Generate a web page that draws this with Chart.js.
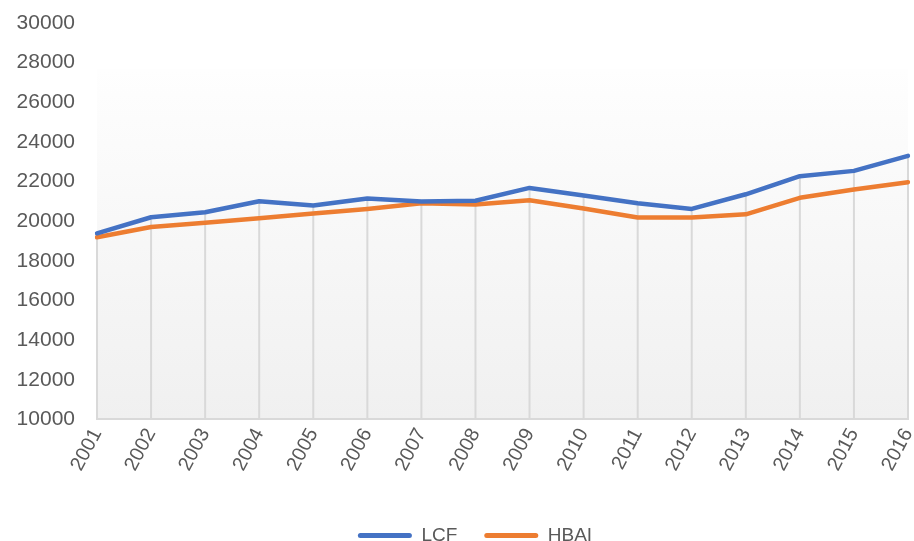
<!DOCTYPE html>
<html>
<head>
<meta charset="utf-8">
<script src="https://cdn.jsdelivr.net/npm/chart.js@4"></script>
<style>
  html, body { margin: 0; padding: 0; background: #fff; }
  #wrap { width: 914px; height: 541px; }
</style>
</head>
<body>
<div id="wrap"><canvas id="chart"></canvas></div>
<script>
const years = ['2001', '2002', '2003', '2004', '2005', '2006', '2007', '2008',
               '2009', '2010', '2011', '2012', '2013', '2014', '2015', '2016'];
const lcf  = [19390, 20200, 20450, 21010, 20790, 21150, 20990, 21030,
              21680, 21300, 20910, 20620, 21360, 22270, 22540, 23300];
const hbai = [19190, 19710, 19920, 20150, 20390, 20620, 20910, 20840,
              21060, 20640, 20190, 20190, 20350, 21180, 21600, 21970];

const yMin = 10000, yMax = 30000, yStep = 2000;

// soft grey fade behind the plot, like the office chart
const plotFill = {
    id: 'plotFill',
    beforeDraw(chart) {
        const a = chart.chartArea;
        const ctx = chart.ctx;
        const top = a.top + 46;
        const g = ctx.createLinearGradient(0, top, 0, a.bottom);
        g.addColorStop(0, '#fefefe');
        g.addColorStop(1, '#f0f0f0');
        ctx.save();
        ctx.fillStyle = g;
        ctx.fillRect(a.left, top, a.right - a.left, a.bottom - top);
        ctx.restore();
    }
};

// drop lines from the highest series down to the axis
const dropLines = {
    id: 'dropLines',
    beforeDatasetsDraw(chart) {
        const xs = chart.scales.x, ys = chart.scales.y;
        const ctx = chart.ctx;
        ctx.save();
        ctx.strokeStyle = '#d9d9d9';
        ctx.lineWidth = 2;
        years.forEach((_, i) => {
            const x = xs.getPixelForValue(i);
            ctx.beginPath();
            ctx.moveTo(x, ys.getPixelForValue(Math.max(lcf[i], hbai[i])));
            ctx.lineTo(x, chart.chartArea.bottom);
            ctx.stroke();
        });
        ctx.restore();
    }
};

// legend sits a bit right of the canvas centre in the original
const legendShift = {
    id: 'legendShift',
    afterLayout(chart) {
        chart.legend.left += 42;
    }
};

Chart.defaults.font.family = '"Liberation Sans", Arial, sans-serif';
Chart.defaults.color = '#595959';

const ctx = document.getElementById('chart').getContext('2d');
new Chart(ctx, {
    type: 'line',
    data: {
        labels: years,
        datasets: [
            { label: 'LCF', data: lcf, borderColor: '#4472C4', backgroundColor: '#4472C4',
              borderWidth: 4.5, pointRadius: 0, tension: 0, borderJoinStyle: 'round', borderCapStyle: 'round' },
            { label: 'HBAI', data: hbai, borderColor: '#ED7D31', backgroundColor: '#ED7D31',
              borderWidth: 4.5, pointRadius: 0, tension: 0, borderJoinStyle: 'round', borderCapStyle: 'round' }
        ]
    },
    options: {
        responsive: true,
        maintainAspectRatio: false,
        animation: false,
        layout: { padding: { top: 23, right: 6, left: 0, bottom: -14 } },
        plugins: {
            tooltip: { enabled: false },
            legend: {
                position: 'bottom',
                labels: {
                    font: { size: 19 },
                    color: '#595959',
                    boxWidth: 54,
                    boxHeight: 5,
                    useBorderRadius: true,
                    borderRadius: 2.5,
                    padding: 27,
                    generateLabels(chart) {
                        return chart.data.datasets.map((d, i) => ({
                            text: d.label,
                            fillStyle: d.borderColor,
                            strokeStyle: d.borderColor,
                            lineWidth: 0,
                            fontColor: '#595959',
                            borderRadius: 2.5,
                            datasetIndex: i
                        }));
                    }
                }
            }
        },
        scales: {
            x: {
                offset: false,
                grid: { display: false, drawTicks: false },
                border: { display: true, color: '#d9d9d9', width: 2 },
                ticks: { font: { size: 20 }, color: '#595959', minRotation: 62, maxRotation: 62, padding: 5, autoSkip: false },
                afterFit(scale) { scale.paddingRight = 0; scale.paddingLeft = 0; scale.height += 19; }
            },
            y: {
                min: yMin,
                max: yMax,
                grid: { display: false, drawTicks: false },
                border: { display: false },
                ticks: { stepSize: yStep, font: { size: 21 }, color: '#595959', padding: 22,
                         callback: v => String(v) },
                afterFit(scale) { scale.width = 97; scale.paddingTop = 0; }
            }
        }
    },
    plugins: [plotFill, dropLines, legendShift]
});
</script>
</body>
</html>
